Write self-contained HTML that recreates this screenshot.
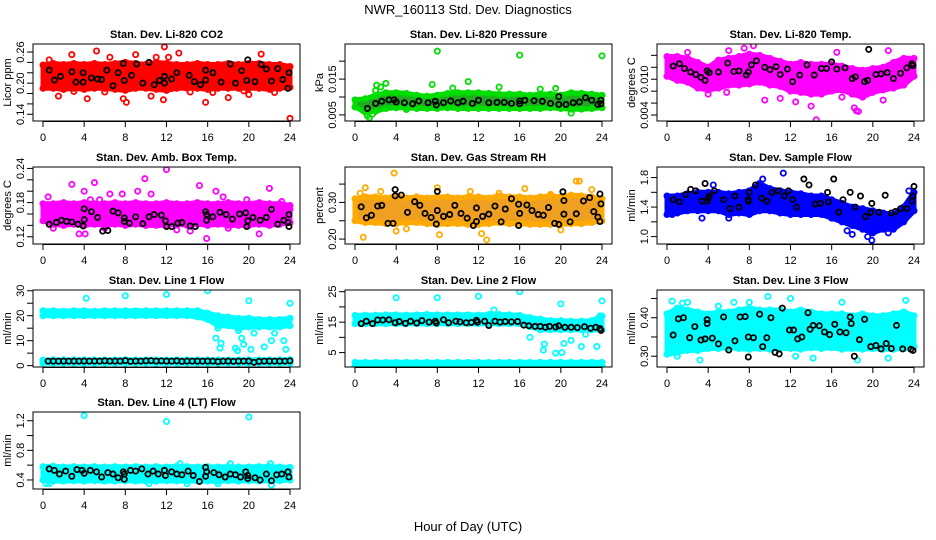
<!DOCTYPE html>
<html><head><meta charset="utf-8">
<style>
html,body{margin:0;padding:0;background:#fff;}
svg{display:block;font-family:"Liberation Sans",sans-serif;}
</style></head>
<body>
<svg id="chart" width="936" height="540" viewBox="0 0 936 540" xmlns="http://www.w3.org/2000/svg">
<text x="468" y="14" text-anchor="middle" font-size="13">NWR_160113  Std. Dev. Diagnostics</text>
<text x="468" y="531" text-anchor="middle" font-size="13">Hour of Day (UTC)</text>
</svg>
<script>
// ---- data (hour-of-day x, value y) ----
const hours = [0,1,2,3,4,5,6,7,8,9,10,11,12,13,14,15,16,17,18,19,20,21,22,23,24];
const xTicks = [0,4,8,12,16,20,24];

const co2Lo = [0.19,0.19,0.188,0.19,0.188,0.19,0.19,0.188,0.186,0.19,0.19,0.188,0.186,0.19,0.19,0.19,0.188,0.19,0.19,0.19,0.19,0.19,0.188,0.19,0.192];
const co2Hi = [0.235,0.238,0.236,0.238,0.236,0.238,0.236,0.238,0.24,0.238,0.236,0.24,0.238,0.236,0.236,0.238,0.236,0.236,0.238,0.236,0.238,0.238,0.236,0.236,0.232];
const co2Pts = [[0.2,0.225],[0.6,0.245],[1.5,0.175],[2.8,0.255],[4.3,0.17],[5.2,0.262],[6.5,0.25],[7.8,0.17],[8.1,0.163],[9,0.255],[10.5,0.175],[11,0.25],[11.7,0.168],[12.2,0.25],[13.2,0.258],[15.8,0.163],[18,0.172],[20,0.178],[21.2,0.256],[22.5,0.182],[24,0.132],[3,0.184],[16.5,0.182],[19.5,0.185],[11.8,0.27],[14.3,0.183],[6,0.183]];
const co2Blk = [[0.6,0.225],[1.1,0.206],[1.7,0.213],[2.8,0.222],[3.2,0.202],[3.9,0.202],[3.9,0.22],[4.7,0.21],[5.3,0.208],[5.7,0.207],[6.2,0.225],[6.8,0.195],[7.3,0.22],[7.8,0.238],[7.9,0.205],[8.6,0.215],[9.1,0.237],[9.7,0.2],[10.3,0.24],[10.8,0.197],[11.3,0.205],[11.8,0.2],[11.8,0.213],[12.5,0.208],[13,0.22],[14.2,0.215],[14.7,0.203],[15.3,0.197],[15.8,0.206],[15.8,0.225],[16.5,0.22],[17.3,0.202],[18.2,0.237],[18.7,0.2],[19.3,0.224],[19.8,0.205],[19.9,0.245],[20.6,0.203],[21.2,0.236],[21.7,0.227],[22.2,0.204],[22.8,0.228],[23.3,0.207],[23.8,0.19],[23.9,0.22]];

const presLo = [0.0072,0.0058,0.006,0.0068,0.007,0.007,0.0068,0.0068,0.0068,0.007,0.0068,0.0068,0.0068,0.0068,0.0068,0.0068,0.0068,0.0068,0.0068,0.007,0.0068,0.0066,0.0066,0.0068,0.007];
const presHi = [0.0092,0.0095,0.0105,0.0112,0.0112,0.011,0.0105,0.0102,0.0105,0.011,0.0112,0.0112,0.0112,0.011,0.0108,0.0108,0.0108,0.0105,0.0108,0.0108,0.0105,0.0112,0.011,0.0108,0.0105];
const presPts = [[0.8,0.0062],[1.2,0.0048],[1.4,0.0042],[1.7,0.0052],[2,0.0118],[2.1,0.0133],[2.5,0.0128],[3,0.0138],[8,0.0228],[9.5,0.0125],[11,0.0143],[14,0.0128],[18,0.0122],[16,0.0217],[24,0.0215],[5,0.0065],[21,0.0055],[7.5,0.0135],[19.5,0.0124]];
const presBlk = [[1.2,0.0068],[2,0.0082],[2.6,0.0088],[3.3,0.0092],[3.8,0.0092],[4,0.0086],[4.8,0.0084],[5.6,0.0081],[6.2,0.0089],[7.1,0.0084],[7.8,0.0088],[7.9,0.0078],[8.6,0.0084],[9.3,0.0089],[10,0.0084],[10.5,0.0088],[11.4,0.0082],[12,0.0091],[13,0.0084],[13.8,0.0085],[14.5,0.0085],[15.2,0.0082],[16,0.0089],[16,0.0081],[16.5,0.0091],[17.4,0.009],[18.2,0.0088],[19,0.0082],[19.8,0.0101],[19.8,0.0079],[20.5,0.0079],[21.2,0.0084],[21.8,0.0086],[22.4,0.0098],[23,0.0091],[23.6,0.0079],[23.9,0.0091],[23.9,0.0081]];

const tempLo = [0.0105,0.0098,0.0095,0.0085,0.0082,0.0085,0.009,0.009,0.0092,0.0095,0.009,0.0088,0.008,0.0078,0.0075,0.0075,0.008,0.0082,0.0075,0.007,0.0078,0.0082,0.0085,0.009,0.0105];
const tempHi = [0.0138,0.0138,0.0135,0.0128,0.012,0.0132,0.0135,0.0138,0.0142,0.014,0.0135,0.013,0.0125,0.0128,0.0125,0.0125,0.0125,0.0122,0.0118,0.0115,0.0118,0.012,0.0128,0.0135,0.0135];
const tempPts = [[14,0.0055],[14.5,0.0032],[18.2,0.0052],[18.4,0.0047],[18.6,0.0046],[9.5,0.0065],[11,0.0068],[12.5,0.0062],[21,0.0065],[17,0.007],[7.5,0.0152],[21.5,0.0148],[6,0.0148],[8.4,0.0156],[2,0.0145],[4,0.0075],[5.8,0.0078],[16.5,0.0145]];
const tempBlk = [[0.6,0.0122],[1.2,0.0126],[1.7,0.0118],[2.3,0.0112],[2.8,0.0108],[3.3,0.0103],[3.7,0.0098],[3.9,0.0114],[4.1,0.0111],[5,0.0112],[5.9,0.0127],[6.5,0.0113],[7,0.0114],[7.7,0.0107],[7.9,0.0112],[8.2,0.0124],[8.7,0.0131],[9.5,0.012],[10,0.0116],[10.6,0.0121],[11,0.0108],[11.7,0.0117],[12.2,0.0096],[12.9,0.0107],[13.6,0.0124],[14.3,0.0107],[15,0.0118],[15.5,0.0118],[16,0.0129],[16.5,0.0117],[17.3,0.0119],[18,0.0101],[18.3,0.0104],[19.2,0.0096],[19.5,0.0098],[19.6,0.015],[20.3,0.0108],[20.8,0.0109],[21.4,0.0111],[22,0.0101],[22.7,0.011],[23.3,0.0119],[23.8,0.0126],[23.9,0.0123]];

const ambLo = [0.148,0.142,0.14,0.142,0.14,0.142,0.14,0.142,0.14,0.142,0.14,0.14,0.14,0.142,0.14,0.142,0.14,0.142,0.14,0.14,0.14,0.142,0.14,0.142,0.145];
const ambHi = [0.178,0.178,0.18,0.178,0.18,0.178,0.178,0.18,0.178,0.18,0.178,0.178,0.18,0.178,0.178,0.18,0.178,0.178,0.18,0.178,0.178,0.18,0.178,0.178,0.175];
const ambPts = [[0.5,0.19],[1,0.135],[2.8,0.212],[4,0.2],[4.1,0.125],[4.6,0.185],[5,0.215],[5.5,0.185],[6.5,0.195],[7.7,0.195],[9.2,0.2],[9.9,0.222],[10.5,0.195],[12,0.238],[14.3,0.13],[15.2,0.21],[15.9,0.117],[16.8,0.2],[17.5,0.19],[19.8,0.185],[21,0.125],[22,0.205],[23.2,0.182],[24,0.168],[6,0.135],[13,0.132],[3.5,0.125],[18,0.135]];
const ambBlk = [[0.6,0.142],[1.3,0.145],[1.8,0.149],[2.3,0.147],[2.8,0.146],[3.4,0.142],[3.9,0.139],[4,0.15],[4,0.169],[4.7,0.164],[5.3,0.154],[5.8,0.13],[6.3,0.131],[6.8,0.165],[7.3,0.162],[7.9,0.147],[7.9,0.153],[8.4,0.144],[9,0.155],[9.7,0.143],[10.3,0.155],[10.8,0.159],[11.5,0.158],[11.9,0.148],[12,0.138],[12.5,0.138],[13.1,0.144],[13.5,0.145],[14.3,0.139],[14.8,0.138],[15.8,0.164],[15.9,0.159],[15.9,0.149],[16.5,0.155],[17.2,0.163],[17.8,0.159],[18.4,0.151],[19.1,0.16],[19.7,0.162],[19.8,0.138],[19.9,0.148],[20.4,0.154],[21.1,0.149],[21.7,0.154],[22.2,0.168],[22.8,0.142],[23.4,0.149],[23.8,0.145],[23.9,0.159],[23.9,0.138]];

const rhLo = [0.25,0.245,0.245,0.242,0.242,0.245,0.245,0.242,0.24,0.242,0.242,0.24,0.24,0.242,0.245,0.242,0.242,0.24,0.24,0.24,0.24,0.242,0.242,0.245,0.25];
const rhHi = [0.31,0.315,0.315,0.312,0.318,0.312,0.315,0.312,0.315,0.315,0.312,0.315,0.315,0.312,0.318,0.315,0.315,0.312,0.315,0.318,0.315,0.32,0.318,0.315,0.31];
const rhPts = [[0.5,0.325],[0.8,0.205],[1,0.34],[3.8,0.38],[4,0.222],[8,0.34],[8.2,0.212],[12.8,0.198],[12.3,0.215],[21.5,0.358],[21.8,0.358],[20,0.225],[11.2,0.33],[19,0.322],[14,0.325],[2.5,0.33],[16.5,0.338],[23,0.335],[5,0.228]];
const rhBlk = [[0.6,0.288],[1.1,0.258],[1.6,0.265],[2.2,0.29],[2.6,0.292],[3.2,0.243],[3.7,0.243],[3.9,0.335],[3.9,0.318],[4.5,0.32],[5.1,0.273],[5.8,0.302],[6.3,0.292],[6.8,0.27],[7.4,0.259],[7.9,0.241],[8,0.278],[8,0.33],[8.6,0.262],[9.2,0.267],[9.7,0.292],[10.3,0.27],[10.9,0.257],[11.5,0.237],[11.8,0.285],[11.8,0.248],[12.4,0.262],[13,0.268],[13.6,0.29],[14.2,0.247],[14.6,0.282],[15.2,0.31],[15.9,0.295],[15.9,0.237],[16,0.27],[16.7,0.293],[17.2,0.278],[17.8,0.267],[18.3,0.265],[18.8,0.286],[19.4,0.243],[19.8,0.24],[20.2,0.329],[20.3,0.305],[20.3,0.268],[20.9,0.247],[21.5,0.269],[22.2,0.304],[22.8,0.313],[23.2,0.275],[23.6,0.26],[23.8,0.323],[23.9,0.296],[23.8,0.248]];

const flowLo = [1.3,1.32,1.35,1.35,1.35,1.35,1.3,1.32,1.3,1.35,1.35,1.32,1.3,1.3,1.3,1.3,1.25,1.2,1.15,1.1,1.05,1.1,1.1,1.2,1.35];
const flowHi = [1.55,1.55,1.58,1.6,1.6,1.6,1.58,1.6,1.62,1.72,1.65,1.62,1.6,1.58,1.55,1.55,1.5,1.45,1.4,1.38,1.35,1.32,1.3,1.4,1.6];
const flowPts = [[9.3,1.78],[11.3,1.86],[19.9,0.95],[18,1.03],[3.4,1.25],[17.5,1.08],[19.5,1.0],[6,1.25],[4.5,1.7],[0.5,1.3],[21.5,1.05],[23.5,1.62]];
const flowBlk = [[0.6,1.5],[1.2,1.47],[1.8,1.57],[2.3,1.64],[2.8,1.62],[3.4,1.48],[3.7,1.72],[3.9,1.48],[4,1.52],[4.1,1.55],[4.6,1.62],[5.5,1.5],[6.1,1.38],[6.6,1.55],[7,1.4],[7.9,1.5],[7.9,1.48],[8,1.6],[8.6,1.7],[9.2,1.52],[9.7,1.48],[10.2,1.6],[10.8,1.62],[11.4,1.55],[11.8,1.62],[12.2,1.5],[12.6,1.4],[13.3,1.78],[13.8,1.7],[14.4,1.44],[14.9,1.45],[15.6,1.6],[15.7,1.47],[16.2,1.78],[16.7,1.33],[17.1,1.5],[17.8,1.6],[18.3,1.4],[18.8,1.55],[19.3,1.27],[19.8,1.33],[19.9,1.45],[20.6,1.33],[21.2,1.56],[21.8,1.32],[22.2,1.34],[22.7,1.38],[23.3,1.38],[23.8,1.48],[23.9,1.55],[24,1.68]];

const l1Lo = [20,20,20,20,20,20,20,20,20,20,20,20,20,20,20,19.5,18.5,16,16,15,15.5,15.5,15.5,15.5,16];
const l1Hi = [22,22,21.8,22,22,21.8,22,22,22,22,22,22,22,22,22,22,21,20,19.5,19,19,18.5,18.5,18.5,19];
const l1BotLo = [1.0,1.0,1.0,1.0,1.0,1.0,1.0,1.0,1.0,1.0,1.0,1.0,1.0,1.0,1.0,1.0,1.0,1.0,1.0,1.0,1.0,1.0,1.0,1.0,1.0];
const l1BotHi = [2.2,2.3,2.3,2.3,2.3,2.3,2.3,2.3,2.4,2.3,2.3,2.3,2.3,2.3,2.3,2.3,2.3,2.3,2.3,2.3,2.3,2.3,2.3,2.3,2.4];
const l1Pts = [[4.2,27],[8,28],[12,28.5],[16,30],[20,26],[24,25],[16.8,11],[17.2,7],[17.3,9],[18.7,7],[18.9,6],[19.3,11],[19.5,8.5],[20.5,13],[20.2,6.5],[21.5,7.5],[22.2,10],[23.4,10],[23.6,6.5],[19,14],[17,15],[22.5,13]];
const l1Blk = [[0.5,1.8],[1,1.8],[1.5,1.8],[2,1.8],[2.5,1.8],[3,1.8],[3.5,1.8],[4,1.8],[4.5,1.8],[5,1.8],[5.5,1.8],[6,1.9],[6.5,1.8],[7,1.8],[7.5,1.8],[8,2.0],[8.5,1.7],[9,1.8],[9.5,1.8],[10,1.9],[10.5,2.0],[11,1.8],[11.5,1.9],[12,1.8],[12.5,1.8],[13,1.9],[13.5,1.7],[14,1.8],[14.5,1.8],[15,1.8],[15.5,1.8],[16,1.8],[16.5,1.8],[17,1.6],[17.5,1.8],[18,1.8],[18.5,1.7],[19,1.8],[19.5,1.8],[20,1.8],[20.5,1.3],[21,1.7],[21.5,1.8],[22,1.8],[22.5,1.8],[23,1.8],[23.5,1.8],[24,1.9]];

const l2Lo = [14.5,14.5,14.5,14.5,14.5,14.5,14.5,14.5,14.5,14.5,14.5,14.5,14.5,14.5,14.5,14.5,14.5,13.5,12.5,12.5,12.5,12.5,12.5,12.5,12.5];
const l2Hi = [17.2,17.3,17.3,17.4,17.4,17.3,17.4,17.5,17.4,17.4,17.4,17.4,17.3,17.5,17.5,17.4,17.2,16.5,16,15.5,15.5,15.3,15.3,15.5,17];
const l2BotLo = [0.6,0.6,0.6,0.6,0.6,0.6,0.6,0.6,0.6,0.6,0.6,0.6,0.6,0.6,0.6,0.6,0.6,0.6,0.6,0.6,0.6,0.6,0.6,0.6,0.6];
const l2BotHi = [1.8,1.8,1.8,1.8,1.8,1.8,1.8,1.8,1.8,1.8,1.8,1.8,1.8,1.8,1.8,1.8,1.8,1.8,1.8,1.8,1.8,1.8,1.8,1.8,1.8];
const l2Pts = [[4,23],[8,23],[12,23.5],[16,25],[20,21],[24,22],[18.3,5.8],[18.4,7.8],[19.5,4.8],[20.3,8],[20.1,5],[22,7],[23.5,7],[22.4,11],[17,10],[13.5,19],[23.8,17],[21,9]];
const l2Blk = [[0.6,14.5],[1.1,15.3],[1.7,14.5],[2.2,15.7],[2.7,15.7],[3.3,15.8],[3.9,14.8],[4.3,15.2],[4.9,14.6],[5.4,15.3],[6,14.7],[6.5,15.5],[7.2,15],[7.8,15.3],[7.9,14.7],[8.6,15.8],[9.1,14.8],[9.8,15.3],[10.2,15.1],[10.8,14.8],[11.3,14.9],[11.8,15.6],[11.9,15],[12.6,15.3],[13,13.9],[13.6,15.3],[14.1,15],[14.6,15.2],[15.2,15.1],[15.8,15.2],[16.4,14],[16.9,13.8],[17.5,13.6],[18,13.6],[18.5,13.3],[18.9,13.6],[19.5,13.4],[19.8,13.8],[20.4,13.3],[21,13.3],[21.6,13.2],[22.3,13.5],[22.9,13],[23.4,13.3],[23.8,12.9],[23.9,12.3]];

const l3Lo = [0.305,0.31,0.315,0.315,0.32,0.32,0.322,0.32,0.318,0.32,0.318,0.32,0.32,0.318,0.322,0.32,0.322,0.318,0.32,0.318,0.32,0.318,0.318,0.32,0.325];
const l3Hi = [0.41,0.425,0.42,0.415,0.41,0.415,0.415,0.42,0.425,0.42,0.42,0.42,0.415,0.42,0.415,0.41,0.41,0.41,0.405,0.41,0.405,0.405,0.41,0.415,0.405];
const l3Pts = [[0.5,0.443],[1,0.3],[3.2,0.29],[1.5,0.438],[12,0.45],[9.8,0.455],[6.5,0.44],[14.2,0.295],[17,0.44],[21.5,0.295],[23.2,0.445],[5,0.43],[12.5,0.3],[2,0.44],[0.3,0.31],[18.5,0.29],[8,0.44]];
const l3Blk = [[0.6,0.355],[1.1,0.397],[1.6,0.4],[2.2,0.348],[2.7,0.377],[3.3,0.342],[3.7,0.345],[3.9,0.385],[3.9,0.395],[4.4,0.347],[5,0.332],[5.5,0.402],[6,0.316],[6.6,0.34],[7.1,0.402],[7.6,0.403],[7.9,0.298],[7.9,0.35],[8.4,0.348],[9,0.409],[9.3,0.325],[9.7,0.348],[10.1,0.4],[10.5,0.31],[10.9,0.306],[11.2,0.425],[11.9,0.368],[12.3,0.368],[12.7,0.345],[13.1,0.35],[13.7,0.413],[13.9,0.37],[14.2,0.38],[14.8,0.379],[15.3,0.363],[15.8,0.356],[16.3,0.383],[16.8,0.363],[17.4,0.361],[17.8,0.402],[17.9,0.385],[18.2,0.3],[18.7,0.343],[19.2,0.396],[19.8,0.325],[20.3,0.328],[20.8,0.319],[21.3,0.333],[21.8,0.32],[22.3,0.38],[22.9,0.319],[23.7,0.318],[23.9,0.315]];

const l4Lo = [0.4,0.385,0.385,0.39,0.385,0.39,0.385,0.385,0.39,0.385,0.385,0.385,0.39,0.385,0.39,0.385,0.385,0.385,0.39,0.385,0.39,0.385,0.39,0.39,0.4];
const l4Hi = [0.58,0.585,0.575,0.58,0.575,0.58,0.575,0.58,0.575,0.58,0.575,0.58,0.575,0.585,0.58,0.575,0.58,0.575,0.58,0.575,0.575,0.58,0.58,0.575,0.57];
const l4Pts = [[4,1.27],[12,1.19],[20,1.25],[0.3,0.35],[22.2,0.33],[14,0.35],[10.3,0.35],[17,0.35],[18.2,0.62],[22.1,0.62],[13.3,0.62],[0.6,0.35]];
const l4Blk = [[0.6,0.55],[1.1,0.53],[1.6,0.48],[2.2,0.52],[2.8,0.45],[3.3,0.54],[3.8,0.53],[4,0.49],[4.6,0.53],[5.2,0.51],[5.7,0.44],[6.3,0.5],[6.8,0.48],[7.3,0.43],[7.8,0.51],[7.9,0.41],[7.9,0.48],[8.5,0.53],[9,0.52],[9.6,0.55],[10.2,0.48],[10.7,0.52],[11.2,0.48],[11.8,0.53],[11.9,0.46],[12.5,0.51],[13,0.48],[13.5,0.47],[14.1,0.52],[14.6,0.46],[15.2,0.38],[15.8,0.57],[15.9,0.51],[15.8,0.45],[16.6,0.5],[17.1,0.47],[17.7,0.44],[18.2,0.48],[18.7,0.47],[19.2,0.44],[19.7,0.51],[19.9,0.46],[19.9,0.42],[20.6,0.43],[21.1,0.4],[21.7,0.48],[22.2,0.39],[22.7,0.47],[23.2,0.48],[23.8,0.51],[23.9,0.44]];

// ---- panel config ----
const panels = [
 {name:'co2',title:'Stan. Dev. Li-820 CO2',ylab:'Licor ppm',col:0,row:0,ymin:0.127,ymax:0.2755,ticks:[0.14,0.16,0.18,0.20,0.22,0.24,0.26],labels:['0.14','0.20','0.26'],color:'#ff0000',lo:co2Lo,hi:co2Hi,pts:co2Pts,blk:co2Blk},
 {name:'pressure',title:'Stan. Dev. Li-820 Pressure',ylab:'kPa',col:1,row:0,ymin:0.0033,ymax:0.0248,ticks:[0.005,0.010,0.015,0.020],labels:['0.005','0.015'],color:'#00dd00',fill:'#22aa22',lo:presLo,hi:presHi,pts:presPts,blk:presBlk},
 {name:'li820-temp',title:'Stan. Dev. Li-820 Temp.',ylab:'degrees C',col:2,row:0,ymin:0.003,ymax:0.0159,ticks:[0.004,0.006,0.008,0.010,0.012,0.014],labels:['0.004','0.010'],color:'#ff00ff',lo:tempLo,hi:tempHi,pts:tempPts,blk:tempBlk},
 {name:'amb-box-temp',title:'Stan. Dev. Amb. Box Temp.',ylab:'degrees C',col:0,row:1,ymin:0.1073,ymax:0.2425,ticks:[0.12,0.14,0.16,0.18,0.20,0.22,0.24],labels:['0.12','0.18','0.24'],color:'#ff00ff',lo:ambLo,hi:ambHi,pts:ambPts,blk:ambBlk},
 {name:'gas-stream-rh',title:'Stan. Dev. Gas Stream RH',ylab:'percent',col:1,row:1,ymin:0.1866,ymax:0.3966,ticks:[0.20,0.25,0.30,0.35],labels:['0.20','0.30'],color:'#ffaa00',fill:'#f0a020',lo:rhLo,hi:rhHi,pts:rhPts,blk:rhBlk},
 {name:'sample-flow',title:'Stan. Dev. Sample Flow',ylab:'ml/min',col:2,row:1,ymin:0.90,ymax:1.943,ticks:[1.0,1.2,1.4,1.6,1.8],labels:['1.0','1.4','1.8'],color:'#0000ff',lo:flowLo,hi:flowHi,pts:flowPts,blk:flowBlk},
 {name:'line1-flow',title:'Stan. Dev. Line 1 Flow',ylab:'ml/min',col:0,row:2,ymin:-0.55,ymax:30.3,ticks:[0,5,10,15,20,25,30],labels:['0','10','20','30'],color:'#00ffff',lo:l1Lo,hi:l1Hi,lo2:l1BotLo,hi2:l1BotHi,pts:l1Pts,blk:l1Blk},
 {name:'line2-flow',title:'Stan. Dev. Line 2 Flow',ylab:'ml/min',col:1,row:2,ymin:0.27,ymax:25.55,ticks:[5,10,15,20,25],labels:['5','15','25'],color:'#00ffff',lo:l2Lo,hi:l2Hi,lo2:l2BotLo,hi2:l2BotHi,pts:l2Pts,blk:l2Blk},
 {name:'line3-flow',title:'Stan. Dev. Line 3 Flow',ylab:'ml/min',col:2,row:2,ymin:0.272,ymax:0.472,ticks:[0.30,0.35,0.40,0.45],labels:['0.30','0.40'],color:'#00ffff',lo:l3Lo,hi:l3Hi,pts:l3Pts,blk:l3Blk},
 {name:'line4-flow',title:'Stan. Dev. Line 4 (LT) Flow',ylab:'ml/min',col:0,row:3,ymin:0.278,ymax:1.318,ticks:[0.4,0.6,0.8,1.0,1.2],labels:['0.4','0.8','1.2'],color:'#00ffff',lo:l4Lo,hi:l4Hi,pts:l4Pts,blk:l4Blk}
];

const NS='http://www.w3.org/2000/svg';
const svg=document.getElementById('chart');
const colLeft=[33,345,657], rowTop=[44,167,290,412], W=267, H=77;
function mk(tag,attrs,parent){const e=document.createElementNS(NS,tag);for(const k in attrs)e.setAttribute(k,attrs[k]);parent.appendChild(e);return e;}
function fmt(v,labels){return labels;}

panels.forEach(p=>{
  const L=colLeft[p.col], T=rowTop[p.row], B=T+H, R=L+W;
  const xs=h=>L+10+h*(247/24);
  const ys=v=>B-(v-p.ymin)/(p.ymax-p.ymin)*H;
  const g=mk('g',{},svg);
  
  
  const clipId='clip-'+p.name;
  const cp=mk('clipPath',{id:clipId},g);
  mk('rect',{x:L,y:T,width:W,height:H},cp);
  const plot=mk('g',{'clip-path':'url(#'+clipId+')'},g);
  
  
  function band(lo,hi,nm){
    let d='';
    hours.forEach((h,i)=>{d+=(i?'L':'M')+xs(h).toFixed(1)+','+ys(hi[i]).toFixed(1);});
    for(let i=hours.length-1;i>=0;i--)d+='L'+xs(hours[i]).toFixed(1)+','+ys(lo[i]).toFixed(1);
    const band=mk('path',{d:d+'Z',fill:p.fill||p.color,stroke:p.color,'stroke-width':5,'stroke-linejoin':'round'},plot);
    
    
    hours.forEach((h,i)=>{
      [lo[i],hi[i]].forEach(v=>{
        const c=mk('circle',{cx:xs(h),cy:ys(v),r:2.6,fill:'none',stroke:p.color,'stroke-width':1.8},plot);
        
        
      });
    });
  }
  band(p.lo,p.hi,p.name+'-band');
  if(p.lo2) band(p.lo2,p.hi2,p.name+'-low-band');
  p.pts.forEach(pt=>{
    const c=mk('circle',{cx:xs(pt[0]),cy:ys(pt[1]),r:2.6,fill:'none',stroke:p.color,'stroke-width':1.8},plot);
    
    
  });
  p.blk.forEach(pt=>{
    const c=mk('circle',{cx:xs(pt[0]),cy:ys(pt[1]),r:2.6,fill:'none',stroke:'#000','stroke-width':1.8},plot);
    
    
  });
  const box=mk('rect',{x:L,y:T,width:W,height:H,fill:'none',stroke:'#000','stroke-width':1},g);
  
  
  const t=mk('text',{x:L+W/2,y:T-6,'text-anchor':'middle','font-size':11,'font-weight':'bold'},g);
  t.textContent=p.title;
  
  
  const yl=mk('text',{x:0,y:0,'text-anchor':'middle','font-size':11,transform:'translate('+(L-22)+','+(T+H/2)+') rotate(-90)'},g);
  yl.textContent=p.ylab;
  
  
  // x axis
  const xa=mk('g',{},g);
  
  
  mk('line',{x1:xs(xTicks[0]),x2:xs(xTicks[xTicks.length-1]),y1:B+0.5,y2:B+0.5,stroke:'#000'},xa);
  xTicks.forEach(v=>{
    mk('line',{x1:xs(v),x2:xs(v),y1:B,y2:B+6,stroke:'#000'},xa);
    const tx=mk('text',{x:xs(v),y:B+20,'text-anchor':'middle','font-size':11},xa);
    tx.textContent=String(v);
    
    
  });
  // y axis
  const ya=mk('g',{},g);
  
  
  p.ticks.forEach(v=>{
    mk('line',{x1:L-6,x2:L,y1:ys(v),y2:ys(v),stroke:'#000'},ya);
  });
  p.labels.forEach(s=>{
    const v=parseFloat(s);
    const ty=mk('text',{x:0,y:0,'text-anchor':'middle','font-size':11,transform:'translate('+(L-9)+','+ys(v)+') rotate(-90)'},ya);
    ty.textContent=s;
    
    
  });
});
</script>
</body></html>
